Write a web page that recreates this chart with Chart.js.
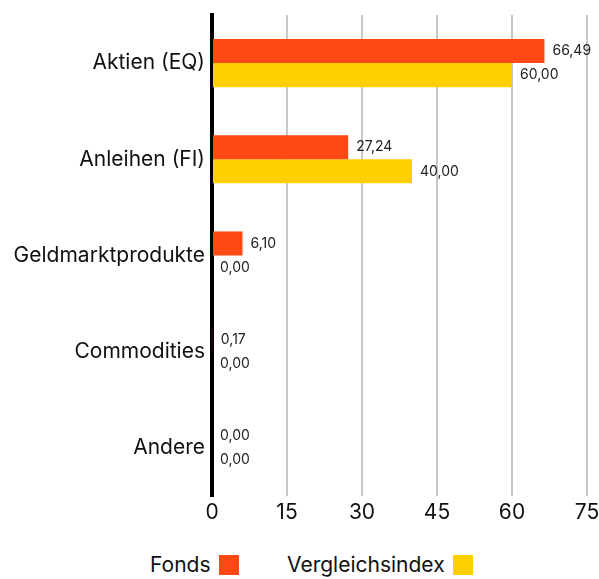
<!DOCTYPE html>
<html>
<head>
<meta charset="utf-8">
<script src="https://cdn.jsdelivr.net/npm/chart.js@4/dist/chart.umd.min.js"></script>
<style>
  body { margin: 0; background: #fff; font-family: Inter, "Noto Sans", sans-serif; }
  #wrap { position: relative; width: 599px; height: 530px; }
  #legend { position: absolute; top: 552px; left: 0; width: 599px; height: 26px; }
  .item { position: absolute; top: 0; font-size: 21px; color: #111; line-height: 26px; }
  .box { display: inline-block; width: 20px; height: 20px; vertical-align: -3px; margin-left: 8px; }
</style>
</head>
<body>
<div id="wrap"><canvas id="b_chart" width="599" height="530"></canvas></div>
<div id="legend"></div>
<script>
const categories = ["Aktien (EQ)", "Anleihen (FI)", "Geldmarktprodukte", "Commodities", "Andere"];
const fondsValues = [66.49, 27.24, 6.10, 0.17, 0.00];
const indexValues = [60.00, 40.00, 0.00, 0.00, 0.00];
const xTicks = [0, 15, 30, 45, 60, 75];

const COLORS = ["#ff4913", "#ffcf00"];
const NAMES = ["Fonds", "Vergleichsindex"];

const valueLabels = {
    id: "valueLabels",
    afterDatasetsDraw(chart) {
        const ctx = chart.ctx;
        ctx.save();
        ctx.font = "14px Inter, 'Noto Sans', sans-serif";
        ctx.fillStyle = "#222";
        ctx.textBaseline = "middle";
        ctx.textAlign = "left";
        chart.data.datasets.forEach((ds, i) => {
            chart.getDatasetMeta(i).data.forEach((bar, j) => {
                const txt = ds.data[j].toFixed(2).replace(".", ",");
                ctx.fillText(txt, bar.x + 8, bar.y);
            });
        });
        ctx.restore();
    }
};

var ctx = document.getElementById("b_chart");
var chart = new Chart(ctx, {
    type: "bar",
    data: {
        labels: categories,
        datasets: [{
            label: NAMES[0],
            data: fondsValues,
            backgroundColor: COLORS[0]
        },
        {
            label: NAMES[1],
            data: indexValues,
            backgroundColor: COLORS[1]
        }]
    },
    options: {
        indexAxis: "y",
        responsive: false,
        animation: false,
        layout: { padding: { top: 15, right: 0, left: 0, bottom: 0 } },
        datasets: { bar: { categoryPercentage: 0.5, barPercentage: 1 } },
        scales: {
            x: {
                min: 0,
                max: 75,
                afterBuildTicks: s => { s.ticks = xTicks.map(v => ({ value: v })); },
                grid: { color: "#c8c8c8", lineWidth: 2, drawTicks: false },
                border: { display: false },
                ticks: { color: "#111", font: { size: 21, family: "Inter" }, padding: 4 },
                afterFit: s => { s.height = 34; s.paddingLeft = 0; s.paddingRight = 12; }
            },
            y: {
                grid: { display: false, tickLength: 0 },
                border: { color: "#000", width: 4 },
                ticks: { color: "#111", font: { size: 21, family: "Inter" }, padding: 7 },
                afterFit: s => { s.width = 212; s.paddingTop = 0; s.paddingBottom = 0; }
            }
        },
        plugins: {
            legend: { display: false },
            tooltip: { enabled: false }
        }
    },
    plugins: [valueLabels]
});

const legend = document.getElementById("legend");
const lefts = [150, 287];
NAMES.forEach((n, i) => {
    const d = document.createElement("div");
    d.className = "item";
    d.style.left = lefts[i] + "px";
    d.innerHTML = n + '<span class="box" style="background:' + COLORS[i] + '"></span>';
    legend.appendChild(d);
});
</script>
</body>
</html>
